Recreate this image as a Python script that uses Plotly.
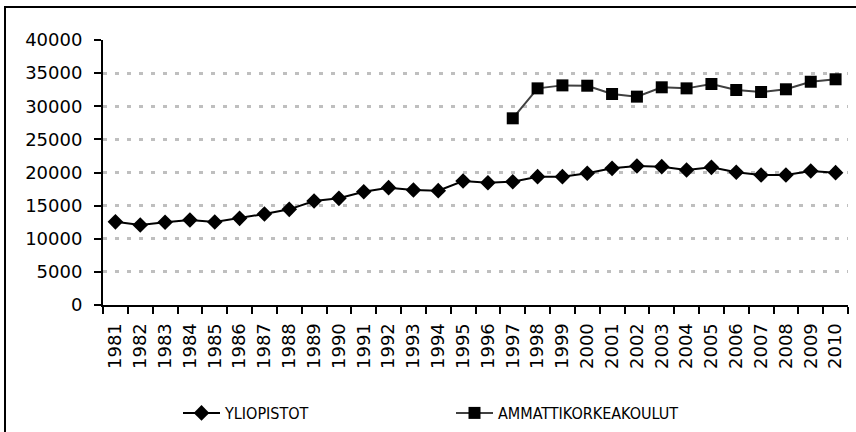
import plotly.graph_objects as go

years = [str(y) for y in range(1981, 2011)]
yliopistot = [12550, 12080, 12480, 12830, 12530, 13080, 13740, 14440, 15700, 16100,
              17100, 17710, 17360, 17260, 18720, 18460, 18610, 19370, 19370, 19880,
              20630, 20980, 20880, 20380, 20780, 20030, 19620, 19620, 20230, 19980]
amk = [None] * 16 + [28180, 32700, 33150, 33100, 31850, 31450, 32860, 32700, 33360,
                     32450, 32150, 32560, 33700, 34070]

W, H = 856, 432
L, R, T, B = 103, 848, 40, 305

def px(x):
    return (x - L) / (R - L)

def py(y):
    return (B - y) / (B - T)

fig = go.Figure()
fig.add_trace(go.Scatter(
    x=years, y=yliopistot, name="YLIOPISTOT", mode="lines+markers",
    line=dict(color="black", width=2),
    marker=dict(symbol="diamond", size=12, color="black"),
))
fig.add_trace(go.Scatter(
    x=years, y=amk, name="AMMATTIKORKEAKOULUT", mode="lines+markers",
    line=dict(color="#404040", width=2),
    marker=dict(symbol="square", size=12, color="black"),
))

fig.update_layout(
    width=W, height=H,
    margin=dict(l=L, r=W - R, t=T, b=H - B, autoexpand=False),
    paper_bgcolor="white", plot_bgcolor="white",
    font=dict(family="DejaVu Sans", size=18, color="black"),
    showlegend=True,
    legend=dict(
        orientation="h", x=px(178), xanchor="left", y=py(413), yanchor="middle",
        font=dict(family="DejaVu Sans Condensed", size=16, color="black"),
        entrywidth=221, entrywidthmode="pixels", itemwidth=37,
        bgcolor="rgba(0,0,0,0)",
    ),
    xaxis=dict(
        type="category", tickson="boundaries", ticks="outside", ticklen=7,
        tickcolor="black", tickwidth=2, showline=True, linecolor="black", linewidth=2,
        tickangle=-90, showgrid=False, zeroline=False, automargin=False,
        range=[-0.5, 29.5], ticklabelstandoff=9,
    ),
    yaxis=dict(
        range=[0, 40000], dtick=5000, ticks="outside", ticklen=7, tickcolor="black",
        tickwidth=2, showline=True, linecolor="black", linewidth=2,
        showgrid=True, gridcolor="#bfbfbf", gridwidth=3, griddash="4px,8px",
        zeroline=False, tickformat="d", automargin=False, ticklabelstandoff=8,
    ),
    shapes=[dict(
        type="rect", xref="paper", yref="paper",
        x0=px(5), x1=px(860), y0=py(440), y1=py(7),
        line=dict(color="black", width=2), fillcolor="rgba(0,0,0,0)", layer="below",
    )],
)

fig.write_html("out.html", config={"displayModeBar": False},
               post_script="document.body.style.margin='0';")
